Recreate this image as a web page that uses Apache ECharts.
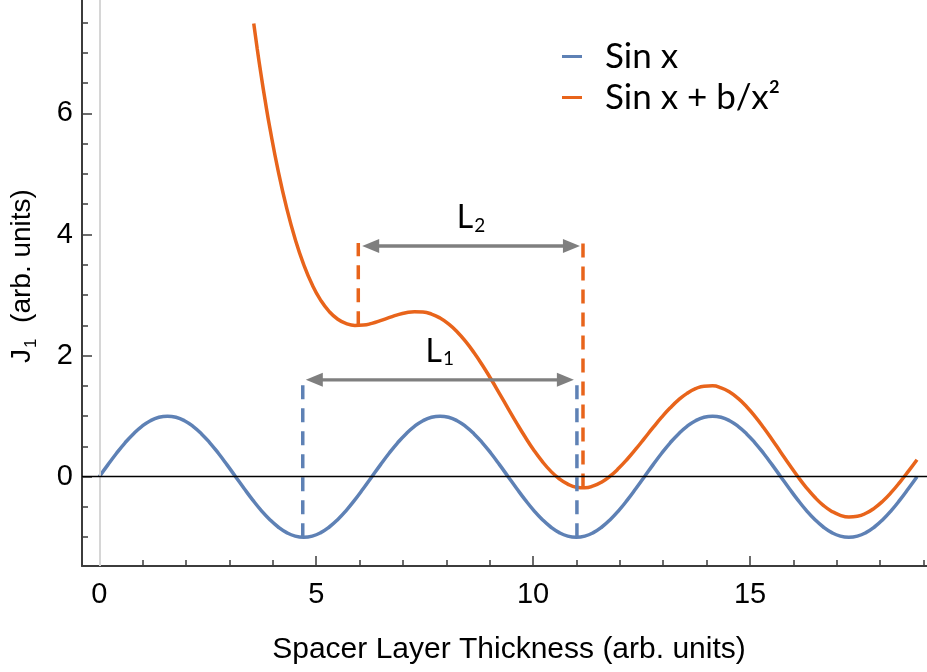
<!DOCTYPE html>
<html><head><meta charset="utf-8">
<script src="https://cdn.jsdelivr.net/npm/echarts@6/dist/echarts.min.js"></script>
<style>html,body{margin:0;padding:0;background:#fff}#c{width:927px;height:672px}</style>
</head><body><div id="c"></div>
<script>
// ---- tick values ----
const xTickLabels = [0, 5, 10, 15];
const xMinorTicks = [1, 2, 3, 4, 6, 7, 8, 9, 11, 12, 13, 14, 16, 17, 18, 19];
const yTickLabels = [0, 2, 4, 6];
const yMinorTicks = [-1, -0.5, 0.5, 1, 1.5, 2.5, 3, 3.5, 4.5, 5, 5.5, 6.5, 7, 7.5];

// ---- series: Sin x ----
const sinX = [0,0.1963,0.3927,0.5890,0.7854,0.9817,1.1781,1.3744,1.5708,1.7671,1.9635,2.1598,2.3562,2.5525,2.7489,2.9452,
  3.1416,3.3379,3.5343,3.7306,3.9270,4.1233,4.3197,4.5160,4.7124,4.9087,5.1051,5.3014,5.4978,5.6941,5.8905,6.0868,
  6.2832,6.4795,6.6759,6.8722,7.0686,7.2649,7.4613,7.6576,7.8540,8.0503,8.2467,8.4430,8.6394,8.8357,9.0321,9.2284,
  9.4248,9.6211,9.8175,10.0138,10.2102,10.4065,10.6029,10.7992,10.9956,11.1919,11.3883,11.5846,11.7810,11.9773,12.1737,12.3700,
  12.5664,12.7627,12.9591,13.1554,13.3518,13.5481,13.7445,13.9408,14.1372,14.3335,14.5299,14.7262,14.9226,15.1189,15.3153,15.5116,
  15.7080,15.9043,16.1007,16.2970,16.4934,16.6897,16.8861,17.0824,17.2788,17.4751,17.6715,17.8678,18.0642,18.2605,18.4569,18.6532,18.8496];
const sinY = [0,0.195,0.383,0.556,0.707,0.831,0.924,0.981,1,0.981,0.924,0.831,0.707,0.556,0.383,0.195,
  0,-0.195,-0.383,-0.556,-0.707,-0.831,-0.924,-0.981,-1,-0.981,-0.924,-0.831,-0.707,-0.556,-0.383,-0.195,
  0,0.195,0.383,0.556,0.707,0.831,0.924,0.981,1,0.981,0.924,0.831,0.707,0.556,0.383,0.195,
  0,-0.195,-0.383,-0.556,-0.707,-0.831,-0.924,-0.981,-1,-0.981,-0.924,-0.831,-0.707,-0.556,-0.383,-0.195,
  0,0.195,0.383,0.556,0.707,0.831,0.924,0.981,1,0.981,0.924,0.831,0.707,0.556,0.383,0.195,
  0,-0.195,-0.383,-0.556,-0.707,-0.831,-0.924,-0.981,-1,-0.981,-0.924,-0.831,-0.707,-0.556,-0.383,-0.195,0];

// ---- series: Sin x + b/x^2 ----
const sumX = [3.56,3.64,3.7306,3.83,3.9270,4.1233,4.3197,4.5160,4.7124,4.9087,5.1051,5.3014,5.4978,5.6941,5.8905,6.0868,
  6.2832,6.4795,6.6759,6.8722,7.0686,7.2649,7.4613,7.6576,7.8540,8.0503,8.2467,8.4430,8.6394,8.8357,9.0321,9.2284,
  9.4248,9.6211,9.8175,10.0138,10.2102,10.4065,10.6029,10.7992,10.9956,11.1919,11.3883,11.5846,11.7810,11.9773,12.1737,12.3700,
  12.5664,12.7627,12.9591,13.1554,13.3518,13.5481,13.7445,13.9408,14.1372,14.3335,14.5299,14.7262,14.9226,15.1189,15.3153,15.5116,
  15.7080,15.9043,16.1007,16.2970,16.4934,16.6897,16.8861,17.0824,17.2788,17.4751,17.6715,17.8678,18.0642,18.2605,18.4569,18.6532,18.8496];
const sumY = [7.484,7.069,6.629,6.182,5.777,5.050,4.435,3.923,3.503,3.169,2.913,2.727,2.601,2.529,2.499,2.504,
  2.533,2.577,2.626,2.673,2.708,2.726,2.720,2.686,2.621,2.524,2.394,2.234,2.047,1.837,1.609,1.369,
  1.126,0.885,0.655,0.441,0.252,0.092,-0.034,-0.123,-0.173,-0.183,-0.153,-0.086,0.013,0.142,0.292,0.458,
  0.633,0.809,0.978,1.133,1.268,1.376,1.453,1.495,1.500,1.468,1.398,1.293,1.156,0.993,0.809,0.611,
  0.405,0.200,0.003,-0.179,-0.340,-0.473,-0.573,-0.638,-0.665,-0.653,-0.604,-0.518,-0.401,-0.256,-0.089,0.092,0.281];

// ---- dashed markers ----
const dashX    = [4.69, 11.01, 5.97, 11.15];
const dashFrom = [-1.0, -1.0, 2.50, -0.18];
const dashTo   = [1.66, 1.66, 3.86, 3.86];
const dashKind = [0, 0, 1, 1];

// ---- arrows ----
const arrowFrom = [4.76, 6.06];
const arrowTo   = [10.94, 11.08];
const arrowY    = [1.60, 3.81];
const arrowSub  = ['1', '2'];

const names = ['Sin x', 'Sin x + b/x²'];
const colors = ['#5E81B5', '#E8641B'];
const GRAY = '#7f7f7f';
const AX = '#3c3c3c';

const zip = (a, b) => a.map((v, i) => [v, b[i]]);

const series = [];
series.push({ type: 'line', data: [], z: 1, silent: true,
  markLine: { silent: true, symbol: 'none', label: { show: false }, animation: false,
    lineStyle: { color: '#d6d6d6', width: 2, type: 'solid' }, data: [{ xAxis: 0 }] } });
series.push({ name: names[0], type: 'line', data: zip(sinX, sinY), smooth: true, showSymbol: false, z: 2,
  lineStyle: { color: colors[0], width: 3.5 }, itemStyle: { color: colors[0] } });
series.push({ name: names[1], type: 'line', data: zip(sumX, sumY), smooth: true, showSymbol: false, z: 2,
  lineStyle: { color: colors[1], width: 3.5 }, itemStyle: { color: colors[1] } });
dashX.forEach((x, i) => {
  series.push({ type: 'line', data: [[x, dashFrom[i]], [x, dashTo[i]]], showSymbol: false, z: 3, silent: true,
    lineStyle: { color: colors[dashKind[i]], width: 3.5, type: [14, 9] } });
});
series.push({ type: 'line', data: [], z: 4, silent: true,
  markLine: { silent: true, symbol: 'none', label: { show: false }, animation: false,
    lineStyle: { color: '#000', width: 1.3, type: 'solid' }, data: [{ yAxis: 0 }] } });
series.push({ type: 'custom', z: 5, silent: true,
  data: arrowFrom.map((v, i) => [v, arrowTo[i], arrowY[i]]),
  encode: { x: [0, 1], y: 2 },
  renderItem: (params, api) => {
    const a = api.coord([api.value(0), api.value(2)]);
    const b = api.coord([api.value(1), api.value(2)]);
    const y = a[1], L = 17, W = 7;
    const sub = arrowSub[params.dataIndex];
    return { type: 'group', children: [
      { type: 'line', shape: { x1: a[0] + L - 2, y1: y, x2: b[0] - L + 2, y2: y }, style: { stroke: GRAY, lineWidth: 3.3 } },
      { type: 'polygon', shape: { points: [[a[0], y], [a[0] + L, y - W], [a[0] + L, y + W]] }, style: { fill: GRAY } },
      { type: 'polygon', shape: { points: [[b[0], y], [b[0] - L, y - W], [b[0] - L, y + W]] }, style: { fill: GRAY } },
      { type: 'text', x: (a[0] + b[0]) / 2, y: y - 11, style: {
          text: '{m|L}{s|' + sub + '}', align: 'center', verticalAlign: 'bottom',
          rich: {
            m: { fontFamily: 'Lato', fontSize: 32, fill: '#000', verticalAlign: 'top' },
            s: { fontFamily: 'Lato', fontSize: 19, fill: '#000', verticalAlign: 'top', padding: [14, 0, 0, 1] }
          } } }
    ] };
  } });

const xBase = { type: 'value', min: -0.399, max: 19.08, splitLine: { show: false } };
const yBase = { type: 'value', min: -1.475, max: 7.873, splitLine: { show: false } };

const option = {
  animation: false,
  backgroundColor: '#fff',
  grid: { left: 82, right: 0, top: 0, bottom: 106 },
  legend: {
    data: names, orient: 'vertical', left: 557, top: 34, itemWidth: 20, itemHeight: 3, itemGap: 6,
    icon: 'rect', selectedMode: false,
    textStyle: { fontFamily: 'Lato', fontSize: 35, color: '#000', padding: [0, 0, 0, 18] }
  },
  xAxis: [
    Object.assign({}, xBase, {
      position: 'bottom',
      axisLine: { show: true, onZero: false, lineStyle: { color: AX, width: 2 } },
      axisTick: { show: true, inside: true, length: 10, customValues: xTickLabels, lineStyle: { color: AX, width: 1.5 } },
      axisLabel: { show: true, customValues: xTickLabels, margin: 14, fontFamily: 'Liberation Sans', fontSize: 29, color: '#000' },
      name: 'Spacer Layer Thickness (arb. units)', nameLocation: 'middle', nameGap: 69,
      nameTextStyle: { fontFamily: 'Liberation Sans', fontSize: 30, color: '#000', padding: [0, 0, 0, 9] }
    }),
    Object.assign({}, xBase, {
      position: 'bottom',
      axisLine: { show: false, onZero: false },
      axisTick: { show: true, inside: true, length: 6, customValues: xMinorTicks, lineStyle: { color: AX, width: 1.5 } },
      axisLabel: { show: false }
    })
  ],
  yAxis: [
    Object.assign({}, yBase, {
      position: 'left',
      axisLine: { show: true, onZero: false, lineStyle: { color: AX, width: 2 } },
      axisTick: { show: true, inside: true, length: 10, customValues: yTickLabels, lineStyle: { color: AX, width: 1.5 } },
      axisLabel: { show: true, customValues: yTickLabels, margin: 9, fontFamily: 'Liberation Sans', fontSize: 29, color: '#000', padding: [4, 0, 0, 0] },
      name: '{j|J}{s|1}{j|  (arb. units)}', nameLocation: 'middle', nameGap: 42, nameRotate: 90,
      nameTextStyle: {
        padding: [0, 0, 0, 14],
        rich: {
          j: { fontFamily: 'Liberation Sans', fontSize: 28, color: '#000', verticalAlign: 'top' },
          s: { fontFamily: 'Liberation Sans', fontSize: 17, color: '#000', verticalAlign: 'top', padding: [15, 0, 0, 1] }
        }
      }
    }),
    Object.assign({}, yBase, {
      position: 'left',
      axisLine: { show: false, onZero: false },
      axisTick: { show: true, inside: true, length: 6, customValues: yMinorTicks, lineStyle: { color: AX, width: 1.5 } },
      axisLabel: { show: false }
    })
  ],
  series: series
};

const chart = echarts.init(document.getElementById('c'), null, { renderer: 'canvas' });
chart.setOption(option);
</script>
</body></html>
